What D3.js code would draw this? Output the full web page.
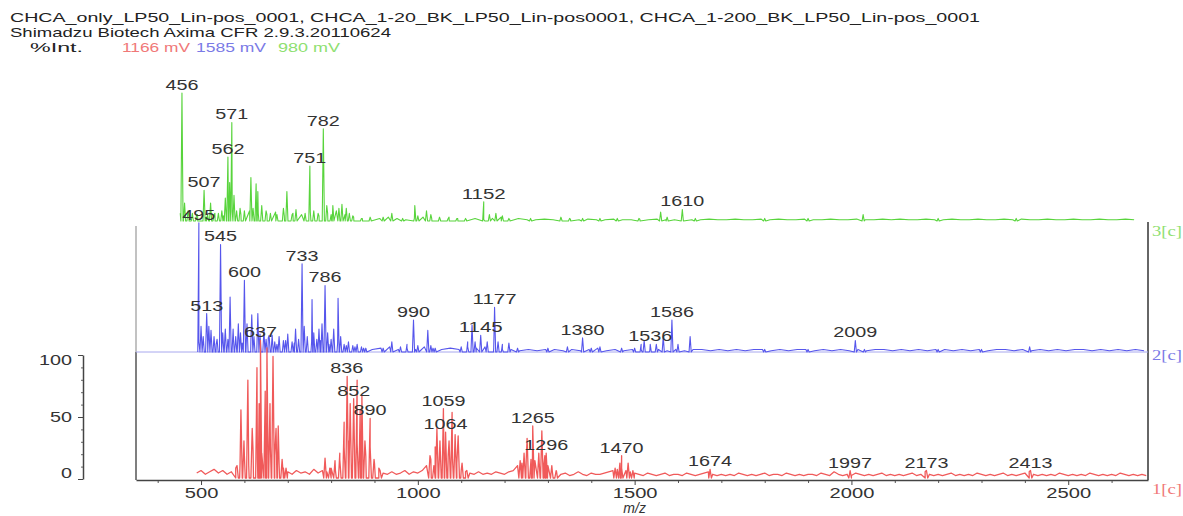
<!DOCTYPE html>
<html><head><meta charset="utf-8">
<script src="https://cdn.jsdelivr.net/npm/d3@7"></script>
<style>body{margin:0;background:#fff}svg{display:block}</style>
</head><body><svg id="c" width="1183" height="516"></svg>
<script>
// ---------------- DATA ----------------
const headerTitle = "CHCA_only_LP50_Lin-pos_0001, CHCA_1-20_BK_LP50_Lin-pos0001, CHCA_1-200_BK_LP50_Lin-pos_0001";
const headerSub = "Shimadzu Biotech Axima CFR 2.9.3.20110624";
const intLabel = "%Int.";
const seriesVoltages = ["1166 mV", "1585 mV", "980 mV"];   // red, blue, green
const panelTags = ["1[c]", "2[c]", "3[c]"];
const xTicks = [500, 1000, 1500, 2000, 2500];
const yTicks = [0, 50, 100];
const xLabel = "m/z";

// green spectrum (CHCA_1-200), [m/z, %]
const greenPeaks = [[456,100],[462,14],[470,8],[480,6],[490,5],[507,24],[515,5],[522,14],[530,5],[540,6],[548,8],[556,18],[562,50],[566,30],[571,77],[576,20],[582,8],[590,10],[600,8],[615,34],[620,10],[627,29],[631,23],[640,12],[650,8],[660,6],[675,5],[690,10],[698,23],[710,5],[719,9],[740,6],[751,43],[760,8],[770,6],[782,72],[790,12],[800,5],[804,12],[818,10],[825,13],[835,10],[842,6],[850,4],[870,2],[890,3],[920,3],[940,6],[965,2],[993,12],[1000,4],[1020,8],[1030,5],[1050,3],[1070,2],[1090,2],[1110,2],[1152,15],[1165,5],[1180,6],[1195,4],[1210,2],[1260,2],[1330,3],[1350,2],[1380,2],[1420,2],[1460,2],[1510,2],[1560,7],[1575,3],[1610,9],[1640,2],[1800,2],[1900,2],[2027,5],[2200,2],[2380,2]];
const greenLabels = [456, 507, 562, 571, 751, 782, 1152, 1610];
const greenNoiseStart = 452, greenNoiseStep = 20;
const greenNoise = [6,4,5,3,6,4,7,5,8,6,5,7,4,6,5,7,4,6,8,5,3,
  2,1,2,3,2,1,2,3,2,1,3,2,1,2,1,2,3,1,2,1,
  1,1.5,1,1,1.5,1,1.5,1,1,1.5,1,1,1.5,1,1.5,1,1,1.5,1,1,1.5,1,1,1.5,1,1,1.5,1,1.5,1,
  1,1.5,1,1,1.5,1,1,1.5,1,1,1.5,1,1.5,1,1,1.5,1,1,1.5,1,1,1.5,1,1,1.5,1,1.5,1,1,1.5,1,1,1.5,1,1,1.5,1,1,1.5,1];

// blue spectrum (CHCA_1-20), [m/z, %]
const bluePeaks = [[495,101],[500,20],[505,12],[513,30],[518,20],[523,17],[530,12],[537,10],[545,84],[550,15],[556,18],[562,10],[567,43],[574,18],[580,12],[586,22],[591,15],[600,56],[606,22],[617,29],[622,12],[631,30],[636,14],[645,17],[650,10],[657,13],[664,13],[670,8],[680,12],[690,9],[700,14],[710,8],[718,18],[725,10],[733,69],[738,20],[745,12],[756,41],[760,15],[767,10],[772,18],[779,22],[786,52],[792,15],[800,10],[806,18],[816,42],[822,12],[830,6],[840,8],[850,5],[860,6],[870,4],[880,3],[920,3],[940,8],[960,4],[975,6],[990,25],[1000,5],[1023,17],[1030,5],[1040,3],[1100,4],[1115,8],[1125,21],[1132,8],[1145,13],[1160,8],[1177,35],[1185,8],[1195,6],[1210,7],[1230,3],[1300,3],[1345,4],[1380,11],[1400,3],[1420,4],[1470,3],[1500,3],[1515,6],[1522,9],[1536,6],[1550,6],[1566,12],[1586,25],[1600,6],[1628,12],[1800,2],[1900,2],[2009,9],[2030,2],[2200,2],[2300,2],[2411,4]];
const blueLabels = [495, 513, 545, 600, 733, 786, 990, 1145, 1177, 1380, 1536, 1586, 2009];
const blueNoiseStart = 495, blueNoiseStep = 20;
const blueNoise = [8,10,6,12,9,7,10,8,11,6,9,7,10,8,9,6,7,5,4,
  3,2,3,4,2,3,2,4,3,2,3,2,4,3,4,3,2,
  2,1,2,1,2,2,1,2,1,2,3,1,2,1,2,2,1,2,1,2,1,2,2,1,2,1,2,1,2,2,
  1,2,1,2,2,1,2,1,2,1,2,1,2,2,1,2,1,2,1,2,2,1,2,1,2,1,2,2,1,2,
  1,2,1,2,1,2,2,1,2,1,2,1,2,1];

// red spectrum (CHCA_only), [m/z, %]
const redPeaks = [[583,10],[592,55],[599,30],[608,79],[618,40],[629,89],[634,60],[637,111],[648,70],[652,105],[659,60],[666,98],[673,40],[678,42],[687,15],[696,8],[786,16],[797,8],[809,14],[820,20],[830,45],[837,82],[844,60],[852,64],[860,79],[867,55],[871,66],[878,30],[890,48],[899,15],[913,6],[1028,18],[1037,10],[1044,40],[1051,30],[1059,56],[1064,37],[1072,30],[1079,53],[1086,35],[1093,34],[1102,12],[1113,6],[1236,14],[1245,20],[1252,32],[1261,15],[1265,42],[1279,20],[1286,38],[1293,18],[1296,20],[1309,10],[1319,6],[1455,8],[1466,12],[1470,18],[1485,12],[1496,6],[1674,7],[1997,6],[2173,6],[2413,6]];
const redLabels = [637, 836, 852, 890, 1059, 1064, 1265, 1296, 1470, 1674, 1997, 2173, 2413];
const redNoiseStart = 490, redNoiseStep = 10;
const redNoise = [4,6,3,5,7,4,6,3,5,8,
  12,18,10,22,15,20,14,25,18,12,8,
  5,3,6,4,5,3,7,4,6,5,8,6,
  15,25,30,20,28,22,18,25,12,8,
  4,3,5,3,4,6,3,5,4,6,
  10,15,25,20,22,18,15,12,6,5,
  4,3,5,3,4,3,5,4,3,5,6,
  10,12,15,10,14,12,8,10,6,5,
  3,4,2,3,5,3,2,4,3,3,4,5,
  6,7,8,6,5,4,
  3,2,4,3,2,3,4,2,3,3,2,4,3,2,3,4,5,3,2,3,
  2,3,2,4,3,2,3,2,3,4,2,3,3,2,4,3,2,3,2,3,
  3,2,4,3,2,5,3,2,3,2,4,3,2,3,2,3,4,2,3,2,
  3,2,3,4,2,3,5,3,2,3,2,3,4,2,3,2,3,2,4,3,
  2,3,2,3,4,2,3,2,3,4,5,3,2,3,2,3,2,4,3,2,
  3,2,3,2,4,3,2,3,2,3,2,4,3,2,3,2,3,2];

// ---------------- DRAWING ----------------
const svg = d3.select("#c");
const FONT = "'Liberation Sans', Arial, sans-serif";
const colors = {red: "#f05a5a", blue: "#5656ec", green: "#58d43c"};
const lightColors = {red: "#f07878", blue: "#7a7ae6", green: "#8ee070"};

const x = d3.scaleLinear().domain([350, 2684]).range([136, 1148]);
const yRed = d3.scaleLinear().domain([0, 100]).range([478, 354]);
const yBlue = d3.scaleLinear().domain([0, 100]).range([352, 224]);
const yGreen = d3.scaleLinear().domain([0, 100]).range([221, 93]);
const yAxisScale = d3.scaleLinear().domain([0, 100]).range([479, 355]);

// header
svg.append("text").attr("x", 10).attr("y", 22).attr("font-family", FONT).attr("font-size", 13.5)
  .attr("fill", "#222").attr("textLength", 970).attr("lengthAdjust", "spacingAndGlyphs").text(headerTitle);
svg.append("text").attr("x", 10).attr("y", 37).attr("font-family", FONT).attr("font-size", 13.5)
  .attr("fill", "#222").attr("textLength", 381).attr("lengthAdjust", "spacingAndGlyphs").text(headerSub);
svg.append("text").attr("x", 30).attr("y", 52).attr("font-family", FONT).attr("font-size", 13.5)
  .attr("fill", "#222").attr("textLength", 53).attr("lengthAdjust", "spacingAndGlyphs").text(intLabel);
const vX = [122, 196, 278], vW = [68, 70, 62];
[lightColors.red, lightColors.blue, lightColors.green].forEach((c, i) => {
  svg.append("text").attr("x", vX[i]).attr("y", 52).attr("font-family", FONT).attr("font-size", 13.5)
    .attr("fill", c).attr("textLength", vW[i]).attr("lengthAdjust", "spacingAndGlyphs").text(seriesVoltages[i]);
});

// panel frames
const [xl, xr] = x.range();
const frame = svg.append("g").attr("fill", "none");
frame.append("line").attr("x1", xl).attr("x2", xl).attr("y1", yBlue(0)).attr("y2", 480).attr("stroke", "#555").attr("stroke-width", 1.5);
frame.append("line").attr("x1", xr).attr("x2", xr).attr("y1", yBlue(0)).attr("y2", 480).attr("stroke", "#333").attr("stroke-width", 1.5);
frame.append("line").attr("x1", xl).attr("x2", xl).attr("y1", yGreen(0) + 5).attr("y2", yBlue(0)).attr("stroke", "#999").attr("stroke-width", 1.2);
frame.append("line").attr("x1", xr).attr("x2", xr).attr("y1", yGreen(0) + 1).attr("y2", yBlue(0)).attr("stroke", "#333").attr("stroke-width", 1.5);
frame.append("line").attr("x1", xl).attr("x2", xr).attr("y1", yBlue(0)).attr("y2", yBlue(0)).attr("stroke", "#a8a8ee").attr("stroke-width", 1);

function tracePoints(peaks, noise, start, step, w) {
  const pts = [];
  peaks.forEach(([m, h]) => { pts.push([m - w, 0], [m, h], [m + w, 0]); });
  noise.forEach((h, i) => pts.push([start + i * step, h]));
  pts.sort((a, b) => a[0] - b[0]);
  return pts;
}
function drawTrace(pts, y, color, width) {
  const line = d3.line().x(d => x(d[0])).y(d => y(d[1]));
  svg.append("path").datum(pts).attr("d", line).attr("fill", "none")
    .attr("stroke", color).attr("stroke-width", width).attr("stroke-linejoin", "round");
}
drawTrace(tracePoints(greenPeaks, greenNoise, greenNoiseStart, greenNoiseStep, 2.5), yGreen, colors.green, 1.1);
drawTrace(tracePoints(bluePeaks, blueNoise, blueNoiseStart, blueNoiseStep, 2.5), yBlue, colors.blue, 1.1);
drawTrace(tracePoints(redPeaks, redNoise, redNoiseStart, redNoiseStep, 3), yRed, colors.red, 1.3);

// peak labels
function drawLabels(labels, peaks, y) {
  labels.forEach(m => {
    const near = peaks.filter(p => Math.abs(p[0] - m) <= 3);
    const h = d3.max(near, p => p[1]) || 0;
    const t = String(m);
    svg.append("text").attr("x", x(m)).attr("y", y(h) - 3)
      .attr("text-anchor", "middle").attr("font-family", FONT).attr("font-size", 14)
      .attr("fill", "#333").attr("textLength", t.length * 11).attr("lengthAdjust", "spacingAndGlyphs").text(t);
  });
}
drawLabels(greenLabels, greenPeaks, yGreen);
drawLabels(blueLabels, bluePeaks, yBlue);
drawLabels(redLabels, redPeaks, yRed);

// x axis
const minorX = d3.range(400, 2700, 100).filter(v => !xTicks.includes(v));
svg.append("g").attr("transform", "translate(0,480)")
  .call(d3.axisBottom(x).tickValues(minorX).tickSize(3).tickFormat(""))
  .call(g => g.select(".domain").remove())
  .call(g => g.selectAll("line").attr("stroke", "#555"));
const gx = svg.append("g").attr("transform", "translate(0,480)")
  .call(d3.axisBottom(x).tickValues(xTicks).tickSize(5).tickSizeOuter(0).tickPadding(3).tickFormat(d3.format("d")));
gx.select(".domain").attr("stroke", "#444").attr("stroke-width", 1.5);
gx.selectAll("line").attr("stroke", "#444");
gx.selectAll("text").attr("font-family", FONT).attr("font-size", 14).attr("fill", "#333")
  .attr("textLength", d => String(d).length * 11.2).attr("lengthAdjust", "spacingAndGlyphs");

// y axis
const minorY = d3.range(0, 101, 10).filter(v => !yTicks.includes(v));
svg.append("g").attr("transform", "translate(83,0)")
  .call(d3.axisLeft(yAxisScale).tickValues(minorY).tickSize(2).tickFormat(""))
  .call(g => g.select(".domain").remove())
  .call(g => g.selectAll("line").attr("stroke", "#666"));
const gy = svg.append("g").attr("transform", "translate(83,0)")
  .call(d3.axisLeft(yAxisScale).tickValues(yTicks).tickSize(5).tickSizeOuter(0).tickPadding(6));
gy.select(".domain").attr("stroke", "#444").attr("stroke-width", 1.5);
gy.selectAll("line").attr("stroke", "#444");
gy.selectAll("text").attr("font-family", FONT).attr("font-size", 14).attr("fill", "#333")
  .attr("textLength", d => String(d).length * 11).attr("lengthAdjust", "spacingAndGlyphs")
  .attr("dy", d => d === 100 ? "0.7em" : d === 0 ? "-0.1em" : "0.32em");

// x label
svg.append("text").attr("x", x(1500)).attr("y", 513).attr("text-anchor", "middle")
  .attr("font-family", FONT).attr("font-size", 14).attr("font-style", "italic").attr("fill", "#333").text(xLabel);

// panel tags
const tagY = [494, 360, 236];
[lightColors.red, lightColors.blue, lightColors.green].forEach((c, i) => {
  svg.append("text").attr("x", 1152).attr("y", tagY[i]).attr("font-family", "'Liberation Serif', serif")
    .attr("font-size", 14).attr("fill", c).attr("textLength", 30).attr("lengthAdjust", "spacingAndGlyphs").text(panelTags[i]);
});
</script>
</body></html>
